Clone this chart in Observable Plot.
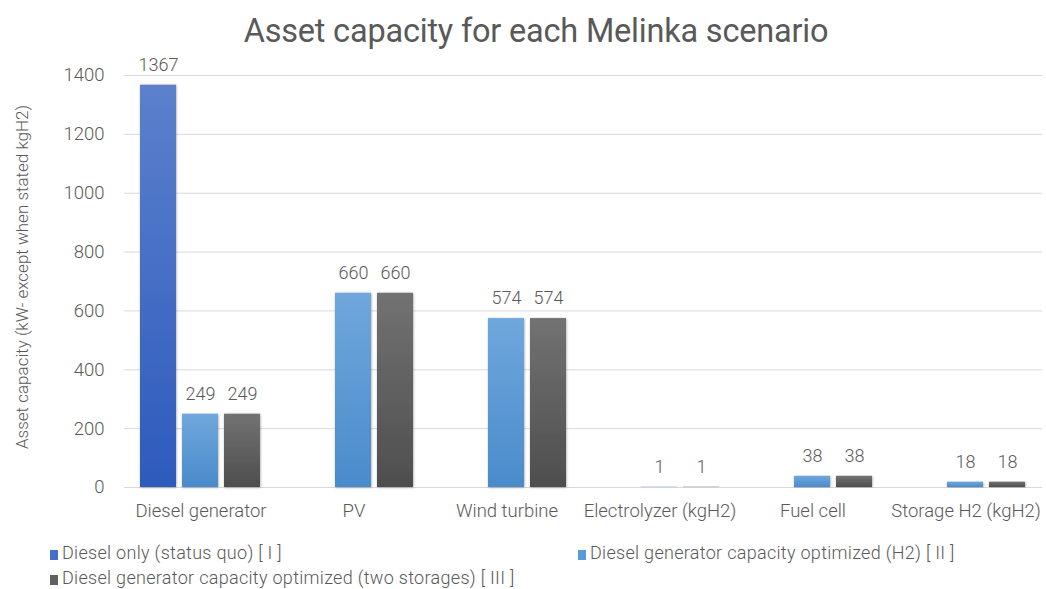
<!DOCTYPE html>
<html>
<head>
<meta charset="utf-8">
<script src="https://cdn.jsdelivr.net/npm/d3@7"></script>
<script src="https://cdn.jsdelivr.net/npm/@observablehq/plot@0.6"></script>
<style>
  html, body { margin: 0; padding: 0; background: #fff; }
  body { width: 1046px; height: 589px; position: relative; overflow: hidden; font-family: Roboto, "Noto Sans", sans-serif; color: #595959; }
  #title { position: absolute; left: 0; width: 1072px; top: 12px; text-align: center; font-size: 32.5px; font-weight: 400; color: #595959; letter-spacing: -0.2px; z-index: 2; }
  #ylabel { position: absolute; left: 22px; top: 277px; transform: translate(-50%, -50%) rotate(-90deg); font-size: 17px; font-weight: 300; white-space: nowrap; color: #595959; }
  #chart { position: absolute; left: 0; top: 20px; }
  .leg { position: absolute; font-size: 18px; font-weight: 300; color: #595959; white-space: nowrap; letter-spacing: 0.3px; }
  .leg i { display: inline-block; width: 8px; height: 10px; margin-right: 4px; vertical-align: -1px; }
</style>
</head>
<body>
<div id="title">Asset capacity for each Melinka scenario</div>
<div id="ylabel">Asset capacity (kW- except when stated kgH2)</div>
<div id="chart"></div>
<div id="legend"></div>
<script>
const categories = ["Diesel generator", "PV", "Wind turbine", "Electrolyzer (kgH2)", "Fuel cell", "Storage H2 (kgH2)"];
const series = [
  "Diesel only (status quo) [ I ]",
  "Diesel generator capacity optimized (H2) [ II ]",
  "Diesel generator capacity optimized (two storages) [ III ]"
];
const seriesKeys = ["I", "II", "III"];
const valuesI = [1367, null, null, null, null, null];
const valuesII = [249, 660, 574, 1, 38, 18];
const valuesIII = [249, 660, 574, 1, 38, 18];
const yTicks = [0, 200, 400, 600, 800, 1000, 1200, 1400];
const seriesColors = ["#4470c8", "#5b9bd5", "#606060"];

const allValues = [valuesI, valuesII, valuesIII];
const data = [];
categories.forEach((c, i) => {
  seriesKeys.forEach((s, j) => {
    const v = allValues[j][i];
    if (v != null) data.push({category: c, series: s, value: v});
  });
});

const plot = Plot.plot({
  width: 1046,
  height: 520,
  marginLeft: 121,
  marginRight: 2,
  marginTop: 55,
  marginBottom: 53,
  style: {fontFamily: "Roboto, 'Noto Sans', sans-serif", fontSize: "18.5px", fontWeight: 300, color: "#595959", background: "transparent"},
  fx: {domain: categories, paddingInner: 0, paddingOuter: 0, axis: "bottom", label: null, tickSize: 0, tickPadding: 16},
  x: {domain: seriesKeys, paddingInner: 0.14, paddingOuter: 0.36, axis: null},
  y: {domain: [0, 1400], ticks: yTicks, grid: true, tickSize: 0, tickPadding: 20, tickFormat: d => String(d), label: null},
  color: {domain: seriesKeys, range: ["url(#gI)", "url(#gII)", "url(#gIII)"]},
  facet: {data, x: "category"},
  marks: [
    Plot.barY(data, {x: "series", y: "value", fill: "series"}),
    Plot.text(data, {x: "series", y: "value", text: d => String(d.value), dy: -20, fill: "#595959", fontSize: 18, fontWeight: 300})
  ]
});

// gradients
const svg = d3.select(plot);
const defs = svg.insert("defs", ":first-child");
const grads = [
  ["gI", "#5c80cc", "#2d5bbd"],
  ["gII", "#6fa7dc", "#4a8bcb"],
  ["gIII", "#727272", "#4e4e4e"]
];
grads.forEach(([id, top, bot]) => {
  const g = defs.append("linearGradient").attr("id", id).attr("x1", 0).attr("y1", 0).attr("x2", 0).attr("y2", 1);
  g.append("stop").attr("offset", "0%").attr("stop-color", top);
  g.append("stop").attr("offset", "100%").attr("stop-color", bot);
});
const f = defs.append("filter").attr("id", "sh").attr("x", "-20%").attr("y", "-5%").attr("width", "140%").attr("height", "110%");
f.append("feDropShadow").attr("dx", 0.5).attr("dy", 0.5).attr("stdDeviation", 1.2).attr("flood-color", "#000").attr("flood-opacity", 0.35);
svg.selectAll("[aria-label='bar'] rect").attr("filter", "url(#sh)");
svg.selectAll(".tick line").attr("stroke", "#d9d9d9").attr("stroke-opacity", 1);
svg.selectAll("g[aria-label='y-axis'] line, g[aria-label='y-grid'] line").attr("stroke", "#d9d9d9").attr("stroke-opacity", 1);

document.getElementById("chart").appendChild(plot);

// legend
const legendPos = [[50, 553], [578, 553], [50, 578]];
const legend = d3.select("#legend");
series.forEach((s, j) => {
  const d = legend.append("div").attr("class", "leg")
    .style("left", legendPos[j][0] + "px").style("top", (legendPos[j][1] - 11) + "px");
  d.append("i").style("background", seriesColors[j]);
  d.append("span").text(s);
});
</script>
</body>
</html>
